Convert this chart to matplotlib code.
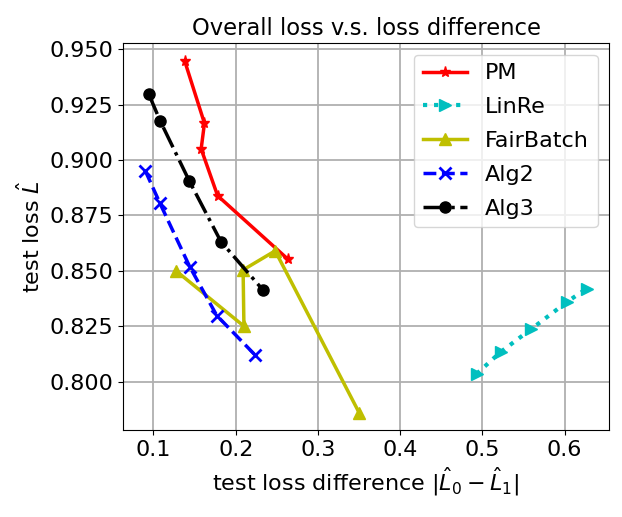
import numpy as np
import matplotlib
matplotlib.use('Agg')
import matplotlib.pyplot as plt
from matplotlib.ticker import MultipleLocator, FormatStrFormatter

# values
pm_x = [0.138, 0.162, 0.158, 0.178, 0.263]
pm_y = [0.9447, 0.9166, 0.905, 0.8839, 0.8554]

linre_x = [0.493, 0.522, 0.559, 0.603, 0.627]
linre_y = [0.8035, 0.8133, 0.8236, 0.836, 0.842]

fb_x = [0.127, 0.210, 0.209, 0.248, 0.350]
fb_y = [0.8501, 0.825, 0.8504, 0.859, 0.786]

alg2_x = [0.090, 0.108, 0.144, 0.177, 0.223]
alg2_y = [0.8952, 0.8804, 0.8519, 0.8298, 0.8122]

alg3_x = [0.094, 0.108, 0.1435, 0.182, 0.233]
alg3_y = [0.930, 0.9178, 0.8906, 0.8632, 0.8414]

plt.rcParams['font.size'] = 16

fig = plt.figure(figsize=(6.22, 5.17), dpi=100)
ax = fig.add_axes([0.198, 0.168, 0.781, 0.748])

ax.plot(pm_x, pm_y, 'r-*', lw=2.5, ms=8, label='PM')
ax.plot(linre_x, linre_y, 'c:>', lw=3, ms=9, label='LinRe')
ax.plot(fb_x, fb_y, 'y-^', lw=2.5, ms=9, label='FairBatch')
ax.plot(alg2_x, alg2_y, 'b--x', lw=2.5, ms=9, mew=2, label='Alg2')
ax.plot(alg3_x, alg3_y, 'k-.o', lw=2.5, ms=8, label='Alg3')

ax.yaxis.set_major_locator(MultipleLocator(0.025))
ax.yaxis.set_major_formatter(FormatStrFormatter('%.3f'))
ax.grid(True, lw=1.3)
ax.set_title('Overall loss v.s. loss difference', fontsize=16.3)
ax.set_xlabel(r'test loss difference $|\hat{L}_0-\hat{L}_1|$')
ax.set_ylabel(r'test loss $\hat{L}$')
ax.legend(loc='upper right', labelspacing=0.62)

fig.savefig('out.png', dpi=100)
